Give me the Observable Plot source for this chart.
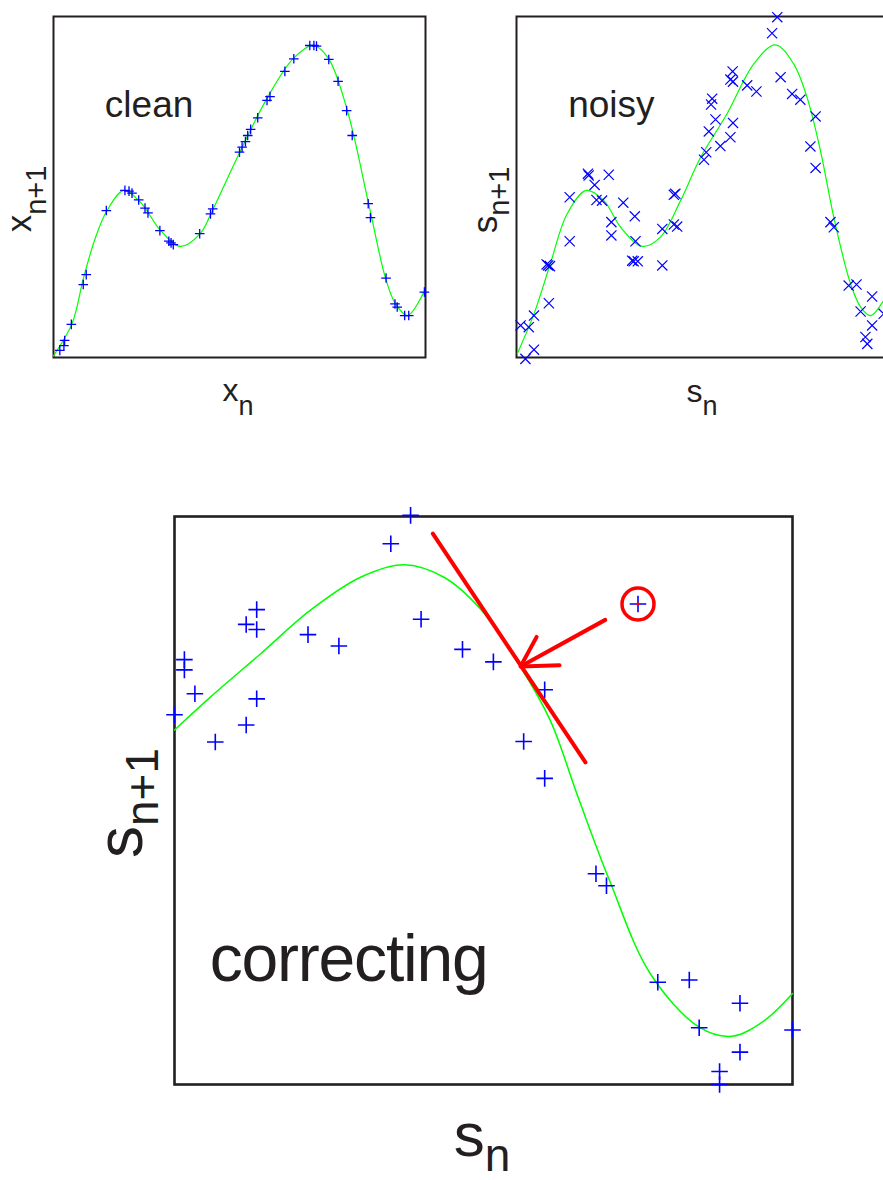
<!DOCTYPE html>
<html>
<head>
<meta charset="utf-8">
<script src="https://cdn.jsdelivr.net/npm/d3@7"></script>
<script src="https://cdn.jsdelivr.net/npm/@observablehq/plot@0.6"></script>
<style>
  body { margin: 0; background: #fff; }
  #page { position: relative; width: 883px; height: 1180px; overflow: hidden; background: #fff; }
  #page > svg { position: absolute; overflow: visible; }
</style>
</head>
<body>
<div id="page"></div>
<script>
// ---- clean map: fitted curve and the iterates (x_n, x_n+1), unit coordinates ----
const cleanCurveX = [0.000, 0.050, 0.081, 0.113, 0.144, 0.189, 0.234, 0.288, 0.341, 0.395, 0.427, 0.503, 0.574, 0.645, 0.699, 0.739, 0.790, 0.847, 0.892, 0.919, 0.952, 0.995];
const cleanCurveY = [0.005, 0.100, 0.235, 0.352, 0.431, 0.490, 0.455, 0.372, 0.326, 0.364, 0.431, 0.607, 0.760, 0.877, 0.915, 0.877, 0.724, 0.452, 0.235, 0.158, 0.123, 0.191];
const cleanX = [0.017, 0.028, 0.030, 0.048, 0.080, 0.088, 0.142, 0.192, 0.203, 0.211, 0.229, 0.246, 0.254, 0.286, 0.310, 0.316, 0.322, 0.393, 0.422, 0.428, 0.500, 0.507, 0.516, 0.522, 0.530, 0.549, 0.574, 0.582, 0.622, 0.646, 0.689, 0.700, 0.707, 0.740, 0.765, 0.788, 0.803, 0.846, 0.852, 0.894, 0.918, 0.924, 0.944, 0.955, 0.997];
const cleanY = [0.021, 0.035, 0.050, 0.097, 0.214, 0.243, 0.431, 0.490, 0.488, 0.482, 0.462, 0.438, 0.424, 0.372, 0.341, 0.336, 0.331, 0.363, 0.421, 0.436, 0.602, 0.617, 0.633, 0.651, 0.669, 0.703, 0.754, 0.765, 0.839, 0.876, 0.915, 0.915, 0.913, 0.874, 0.810, 0.724, 0.651, 0.451, 0.410, 0.233, 0.157, 0.148, 0.123, 0.123, 0.192];

// ---- noisy map: fitted curve and the measured pairs (s_n, s_n+1) ----
const noisyCurveX = [0.002, 0.047, 0.091, 0.136, 0.188, 0.235, 0.280, 0.338, 0.387, 0.441, 0.495, 0.566, 0.638, 0.696, 0.745, 0.781, 0.817, 0.853, 0.898, 0.925, 0.952, 0.987, 1.000];
const noisyCurveY = [0.011, 0.128, 0.275, 0.421, 0.490, 0.460, 0.382, 0.326, 0.353, 0.460, 0.587, 0.715, 0.861, 0.917, 0.861, 0.763, 0.607, 0.411, 0.216, 0.148, 0.123, 0.167, 0.195];
const noisyX = [0.011, 0.033, 0.047, 0.024, 0.047, 0.087, 0.081, 0.085, 0.090, 0.143, 0.143, 0.192, 0.194, 0.210, 0.215, 0.230, 0.248, 0.255, 0.255, 0.287, 0.318, 0.320, 0.311, 0.315, 0.326, 0.392, 0.392, 0.423, 0.427, 0.423, 0.432, 0.504, 0.510, 0.517, 0.523, 0.526, 0.535, 0.548, 0.575, 0.582, 0.575, 0.581, 0.582, 0.620, 0.645, 0.687, 0.701, 0.710, 0.741, 0.763, 0.804, 0.790, 0.804, 0.844, 0.853, 0.893, 0.914, 0.925, 0.956, 0.956, 0.938, 0.943, 0.987];
const noisyY = [0.094, 0.089, 0.123, -0.004, 0.023, 0.159, 0.273, 0.270, 0.268, 0.470, 0.341, 0.539, 0.534, 0.506, 0.462, 0.460, 0.536, 0.397, 0.358, 0.454, 0.414, 0.341, 0.284, 0.282, 0.282, 0.270, 0.377, 0.477, 0.480, 0.390, 0.384, 0.580, 0.602, 0.663, 0.742, 0.759, 0.698, 0.620, 0.646, 0.688, 0.815, 0.839, 0.809, 0.798, 0.780, 0.951, 0.998, 0.822, 0.773, 0.756, 0.707, 0.619, 0.556, 0.397, 0.382, 0.211, 0.214, 0.135, 0.179, 0.094, 0.060, 0.040, 0.128];

// ---- correcting: right-hand branch of the noisy map, enlarged ----
const corrCurveX = [0.000, 0.058, 0.139, 0.220, 0.301, 0.371, 0.436, 0.495, 0.560, 0.608, 0.654, 0.704, 0.770, 0.849, 0.902, 0.955, 1.000];
const corrCurveY = [0.624, 0.682, 0.758, 0.835, 0.893, 0.915, 0.893, 0.837, 0.735, 0.641, 0.503, 0.359, 0.195, 0.101, 0.085, 0.113, 0.160];
const corrX = [0.000, 0.016, 0.016, 0.033, 0.066, 0.116, 0.133, 0.116, 0.133, 0.133, 0.216, 0.266, 0.350, 0.382, 0.399, 0.466, 0.516, 0.599, 0.565, 0.599, 0.682, 0.699, 0.782, 0.833, 0.915, 0.849, 0.915, 0.882, 0.882, 1.000, 0.750];
const corrY = [0.651, 0.748, 0.730, 0.688, 0.603, 0.633, 0.679, 0.810, 0.836, 0.801, 0.792, 0.772, 0.952, 1.002, 0.819, 0.766, 0.744, 0.695, 0.604, 0.539, 0.371, 0.350, 0.180, 0.184, 0.143, 0.100, 0.057, 0.023, 0.000, 0.096, 0.846];
// tangent at the corrected point, the arrow pointing to it, and the flagged outlier
const tangentX = [0.418, 0.665];
const tangentY = [0.970, 0.567];
const arrowShaftX = [0.697, 0.560];
const arrowShaftY = [0.818, 0.736];
const arrowHeadX = [0.623, 0.560, 0.586];
const arrowHeadY = [0.738, 0.736, 0.788];
const outlier = [0.750, 0.846];

const panelNames = ["clean", "noisy", "correcting"];

// ---- drawing ----
const INK = "#231f20";
const FONT = "'Liberation Sans', Arial, Helvetica, sans-serif";
const pairs = (xs, ys) => xs.map((x, i) => ({x, y: ys[i]}));
const page = document.getElementById("page");

function panel(o) {
  const chart = Plot.plot({
    width: o.width, height: o.height,
    marginLeft: o.mL, marginTop: o.mT,
    marginRight: o.width - o.mL - o.fw, marginBottom: o.height - o.mT - o.fh,
    x: {domain: [0, 1], axis: null},
    y: {domain: [0, 1], axis: null},
    style: {background: "transparent", overflow: "visible", fontFamily: FONT},
    marks: [
      Plot.frame({stroke: INK, strokeWidth: o.frameW}),
      Plot.line(o.curve, {x: "x", y: "y", stroke: "#00ff00", strokeWidth: o.curveW, curve: "catmull-rom"}),
      Plot.dot(o.points, {x: "x", y: "y", symbol: o.symbol, r: o.r, stroke: "#0000ff", strokeWidth: o.dotW}),
      ...(o.extra || []),
      Plot.text([{x: o.nameX, y: o.nameY, t: o.name}], {
        x: "x", y: "y", text: "t", textAnchor: "start", lineAnchor: "bottom",
        fontSize: o.nameSize, fill: INK, fontFamily: FONT
      })
    ]
  });
  chart.style.left = o.left + "px";
  chart.style.top = o.top + "px";
  if (o.nameSpacing) d3.select(chart).selectAll("text").attr("letter-spacing", o.nameSpacing);
  const svg = d3.select(chart);
  // axis titles with a subscript
  for (const L of o.labels) {
    const t = svg.append("text")
      .attr("transform", `translate(${L.x},${L.y})` + (L.rotate ? " rotate(-90)" : ""))
      .attr("text-anchor", "middle")
      .attr("font-family", FONT)
      .attr("font-size", L.size)
      .attr("fill", INK);
    t.append("tspan").text(L.main);
    t.append("tspan").attr("dy", L.drop).attr("font-size", L.subSize).text(L.sub);
  }
  page.appendChild(chart);
}

panel({
  left: 0, top: 0, width: 440, height: 430, mL: 53, mT: 16, fw: 372, fh: 341,
  frameW: 2, curve: pairs(cleanCurveX, cleanCurveY), curveW: 1.2,
  points: pairs(cleanX, cleanY), symbol: "plus", r: 3.2, dotW: 1.3,
  name: panelNames[0], nameX: 0.138, nameY: 0.705, nameSize: 37,
  labels: [
    {x: 238, y: 401, main: "x", sub: "n", size: 32, subSize: 27, drop: 14},
    {x: 31, y: 199, rotate: true, main: "x", sub: "n+1", size: 35, subSize: 29, drop: 15}
  ]
});

panel({
  left: 463, top: 0, width: 440, height: 430, mL: 53, mT: 16, fw: 372, fh: 341,
  frameW: 2, curve: pairs(noisyCurveX, noisyCurveY), curveW: 1.2,
  points: pairs(noisyX, noisyY), symbol: "times", r: 4.7, dotW: 1.2,
  name: panelNames[1], nameX: 0.139, nameY: 0.705, nameSize: 37,
  labels: [
    {x: 239, y: 402, main: "s", sub: "n", size: 32, subSize: 27, drop: 13},
    {x: 34, y: 200, rotate: true, main: "s", sub: "n+1", size: 35, subSize: 29, drop: 12}
  ]
});

panel({
  left: 0, top: 480, width: 883, height: 700, mL: 174, mT: 36, fw: 618, fh: 568,
  frameW: 2.6, curve: pairs(corrCurveX, corrCurveY), curveW: 1.5,
  points: pairs(corrX, corrY), symbol: "plus", r: 5.4, dotW: 1.6,
  name: panelNames[2], nameX: 0.057, nameY: 0.183, nameSize: 66, nameSpacing: -1.2,
  extra: [
    Plot.line(pairs(tangentX, tangentY), {x: "x", y: "y", stroke: "#ff0000", strokeWidth: 4}),
    Plot.line(pairs(arrowShaftX, arrowShaftY), {x: "x", y: "y", stroke: "#ff0000", strokeWidth: 4}),
    Plot.line(pairs(arrowHeadX, arrowHeadY), {x: "x", y: "y", stroke: "#ff0000", strokeWidth: 4, strokeLinejoin: "miter"}),
    Plot.dot([{x: outlier[0], y: outlier[1]}], {x: "x", y: "y", r: 16, stroke: "#ff0000", strokeWidth: 3.5, fill: "none"}),
    Plot.dot([{x: outlier[0], y: outlier[1]}], {x: "x", y: "y", r: 1.6, fill: "#ff0000"})
  ],
  labels: [
    {x: 482, y: 676, main: "s", sub: "n", size: 62, subSize: 46, drop: 15},
    {x: 142, y: 323, rotate: true, main: "s", sub: "n+1", size: 64, subSize: 46, drop: 16}
  ]
});
</script>
</body>
</html>
